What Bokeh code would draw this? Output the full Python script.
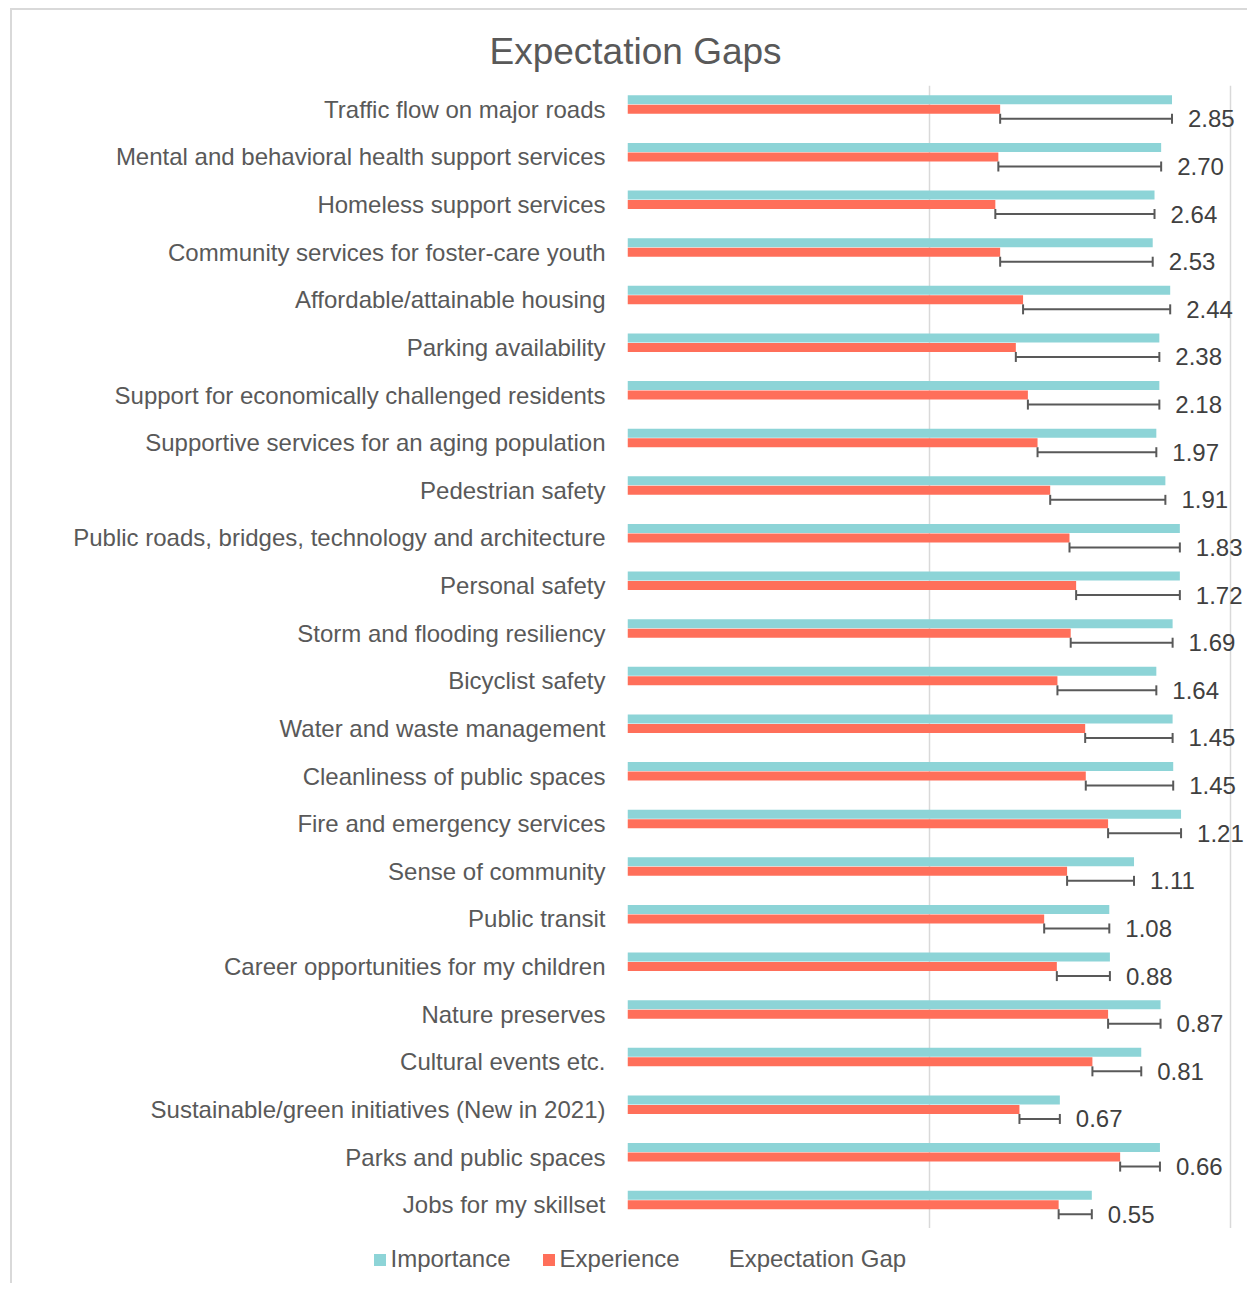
from bokeh.plotting import figure
from bokeh.layouts import column
from bokeh.models import (ColumnDataSource, FactorRange, Range1d, FixedTicker, Legend,
                          LegendItem, Title)
from bokeh.transform import dodge
from bokeh.embed import file_html
from bokeh.resources import INLINE
from bokeh.core.properties import value

categories = [
    "Traffic flow on major roads",
    "Mental and behavioral health support services",
    "Homeless support services",
    "Community services for foster-care youth",
    "Affordable/attainable housing",
    "Parking availability",
    "Support for economically challenged residents",
    "Supportive services for an aging population",
    "Pedestrian safety",
    "Public roads, bridges, technology and architecture",
    "Personal safety",
    "Storm and flooding resiliency",
    "Bicyclist safety",
    "Water and waste management",
    "Cleanliness of public spaces",
    "Fire and emergency services",
    "Sense of community",
    "Public transit",
    "Career opportunities for my children",
    "Nature preserves",
    "Cultural events etc.",
    "Sustainable/green initiatives (New in 2021)",
    "Parks and public spaces",
    "Jobs for my skillset",
]
importance = [9.03, 8.85, 8.74, 8.71, 9.00, 8.82, 8.82, 8.77, 8.92, 9.16, 9.16, 9.04,
              8.77, 9.04, 9.05, 9.18, 8.40, 7.99, 8.00, 8.84, 8.52, 7.17, 8.83, 7.70]
experience = [6.18, 6.15, 6.10, 6.18, 6.56, 6.44, 6.64, 6.80, 7.01, 7.33, 7.44, 7.35,
              7.13, 7.59, 7.60, 7.97, 7.29, 6.91, 7.12, 7.97, 7.71, 6.50, 8.17, 7.15]
gap = [2.85, 2.70, 2.64, 2.53, 2.44, 2.38, 2.18, 1.97, 1.91, 1.83, 1.72, 1.69,
       1.64, 1.45, 1.45, 1.21, 1.11, 1.08, 0.88, 0.87, 0.81, 0.67, 0.66, 0.55]
series_names = ["Importance", "Experience", "Expectation Gap"]
grid_ticks = [0, 5, 10]

TEAL = "#8DD4D7"
CORAL = "#FF6F5A"
TEXT = "#595959"
FONT = "Liberation Sans"
BORDER = "2px solid #D9D9D9"

src = ColumnDataSource(dict(
    cat=categories, imp=importance, exp=experience,
    label=["%.2f" % g for g in gap],
))

# ---------------- main chart ----------------
W = 1237
p = figure(width=W, height=1220, output_backend="svg", toolbar_location=None,
           y_range=FactorRange(factors=list(reversed(categories))),
           x_range=Range1d(0, 622 / 60.3),
           min_border_left=615, min_border_right=0, min_border_top=75,
           min_border_bottom=2)
p.frame_align = False
p.styles = {"margin-left": "10px", "margin-top": "8px",
            "border-left": BORDER, "border-top": BORDER}
p.outline_line_color = None
p.background_fill_color = "white"
p.border_fill_color = "white"

p.xaxis.visible = False
p.xgrid.ticker = FixedTicker(ticks=grid_ticks)
p.xgrid.grid_line_color = "#D9D9D9"
p.xgrid.grid_line_width = 1.5
p.ygrid.grid_line_color = None

ya = p.yaxis[0]
ya.axis_line_color = None
ya.major_tick_line_color = None
ya.minor_tick_line_color = None
ya.major_tick_in = 0
ya.major_tick_out = 0
ya.major_label_standoff = 22
ya.major_label_text_font = FONT
ya.major_label_text_font_size = "24px"
ya.major_label_text_color = TEXT

p.hbar(y=dodge("cat", 0.2, range=p.y_range), left=0, right="imp", height=0.19,
       source=src, fill_color=TEAL, line_color=None)
p.hbar(y=dodge("cat", 0.0, range=p.y_range), left=0, right="exp", height=0.19,
       source=src, fill_color=CORAL, line_color=None)

# error bars (gap from experience to importance)
p.segment(x0="exp", x1="imp", y0=dodge("cat", -0.2, range=p.y_range),
          y1=dodge("cat", -0.2, range=p.y_range), source=src,
          line_color="#595959", line_width=2)
p.segment(x0="exp", x1="exp", y0=dodge("cat", -0.305, range=p.y_range),
          y1=dodge("cat", -0.095, range=p.y_range), source=src,
          line_color="#595959", line_width=2)
p.segment(x0="imp", x1="imp", y0=dodge("cat", -0.305, range=p.y_range),
          y1=dodge("cat", -0.095, range=p.y_range), source=src,
          line_color="#595959", line_width=2)

p.text(x="imp", y=dodge("cat", -0.2, range=p.y_range), text="label", source=src,
       x_offset=16, text_align="left", text_baseline="middle",
       text_font=value(FONT), text_font_size="24px", text_color="#404040")

p.add_layout(Title(text="Expectation Gaps", align="left", offset=-138, standoff=28,
                   text_font=FONT, text_font_size="37px", text_font_style="normal",
                   text_color=TEXT), "above")

# ---------------- legend strip ----------------
lg = figure(width=W, height=55, output_backend="svg", toolbar_location=None,
            x_range=Range1d(0, 1), y_range=Range1d(0, 1),
            min_border_left=0, min_border_right=0, min_border_top=0,
            min_border_bottom=0)
lg.frame_align = False
lg.styles = {"margin-left": "10px", "border-left": BORDER}
lg.axis.visible = False
lg.grid.grid_line_color = None
lg.outline_line_color = None
lg.background_fill_color = "white"
lg.border_fill_color = "white"

# legend-only renderers: their single bar lies outside the strip's visible range
proxy = ColumnDataSource(dict(y=[5], right=[0]))
l_imp = lg.hbar(y="y", right="right", left=0, height=0.2, source=proxy,
                fill_color=TEAL, line_color=None)
l_exp = lg.hbar(y="y", right="right", left=0, height=0.2, source=proxy,
                fill_color=CORAL, line_color=None)
l_gap = lg.hbar(y="y", right="right", left=0, height=0.2, source=proxy,
                fill_alpha=0, line_alpha=0)

legend = Legend(items=[LegendItem(label=series_names[0], renderers=[l_imp]),
                       LegendItem(label=series_names[1], renderers=[l_exp]),
                       LegendItem(label=series_names[2], renderers=[l_gap])],
                location=(359.5, 10), orientation="horizontal",
                glyph_width=15, glyph_height=15, label_standoff=4, spacing=30,
                padding=0, margin=0, border_line_color=None,
                background_fill_alpha=0, label_text_font=FONT,
                label_text_font_size="24px", label_text_color=TEXT,
                label_height=24)
lg.add_layout(legend)

layout = column(p, lg, spacing=0)
open("out.html", "w").write(file_html(layout, INLINE))
